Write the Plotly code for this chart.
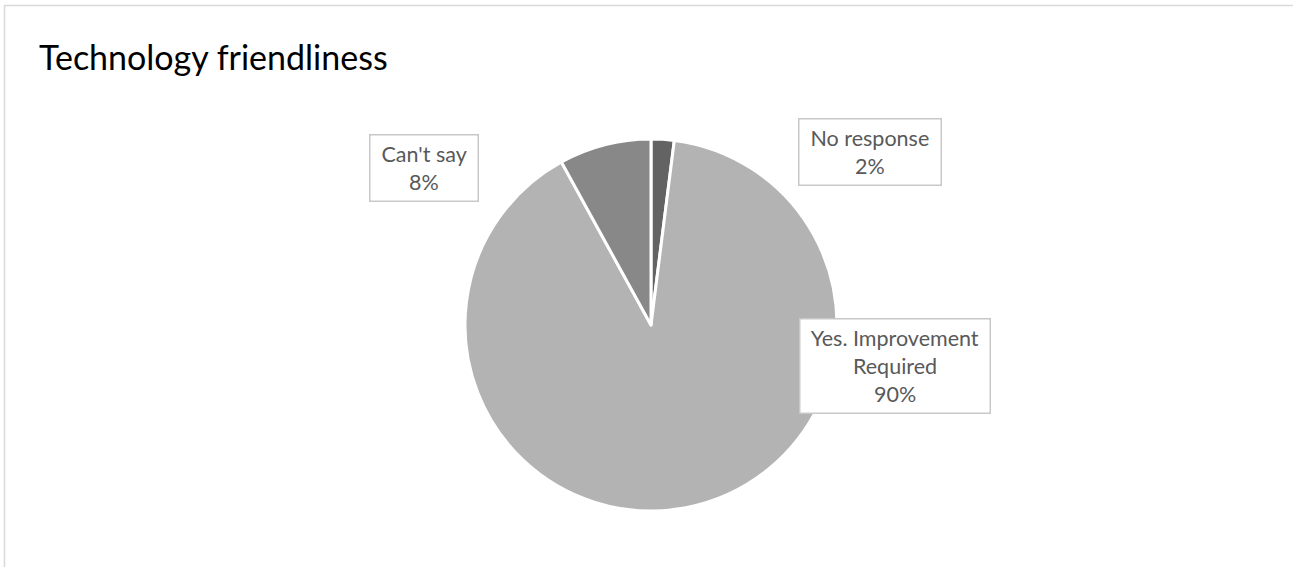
import plotly.graph_objects as go

W, H = 1293, 567

categories = ["No response", "Yes. Improvement Required", "Can't say"]
shares = [2, 90, 8]
slice_colors = ["#636363", "#b3b3b3", "#888888"]

# label boxes: (label lines, center x px, center y px)
label_lines = [["No response", "2%"], ["Yes. Improvement", "Required", "90%"], ["Can't say", "8%"]]
label_pos = [(870, 152), (895, 366), (424, 168)]

cx, cy, r = 651, 325, 186

fig = go.Figure(go.Pie(
    labels=categories,
    values=shares,
    sort=False,
    direction="clockwise",
    rotation=0,
    marker=dict(colors=slice_colors, line=dict(color="white", width=3)),
    textinfo="none",
    hoverinfo="label+percent",
    showlegend=False,
    domain=dict(x=[(cx - r) / W, (cx + r) / W], y=[1 - (cy + r) / H, 1 - (cy - r) / H]),
))

for lines, (x, y) in zip(label_lines, label_pos):
    txt = "<br>".join("&nbsp;" + ln + "&nbsp;" for ln in lines)
    fig.add_annotation(
        x=x / W, y=1 - y / H, xref="paper", yref="paper",
        xanchor="center", yanchor="middle",
        text=txt, showarrow=False,
        font=dict(family="Lato, Carlito, sans-serif", size=21.5, color="#595959"),
        align="center",
        bgcolor="white", bordercolor="#c8c8c8", borderwidth=1.5, borderpad=5.5,
    )

fig.add_annotation(
    x=37 / W, y=1 - 57 / H, xref="paper", yref="paper",
    xanchor="left", yanchor="middle",
    text="Technology friendliness", showarrow=False,
    font=dict(family="Lato, Carlito, sans-serif", size=34, color="#000000"),
)

# chart area frame (open to the right and bottom)
fig.add_shape(type="rect", xref="paper", yref="paper",
              x0=4.5 / W, x1=1.05, y0=-0.2, y1=1 - 5.5 / H,
              line=dict(color="#d9d9d9", width=1.5), fillcolor="rgba(0,0,0,0)")

fig.update_layout(
    width=W, height=H,
    margin=dict(l=0, r=0, t=0, b=0),
    paper_bgcolor="white", plot_bgcolor="white",
)

fig.write_html("out.html")
